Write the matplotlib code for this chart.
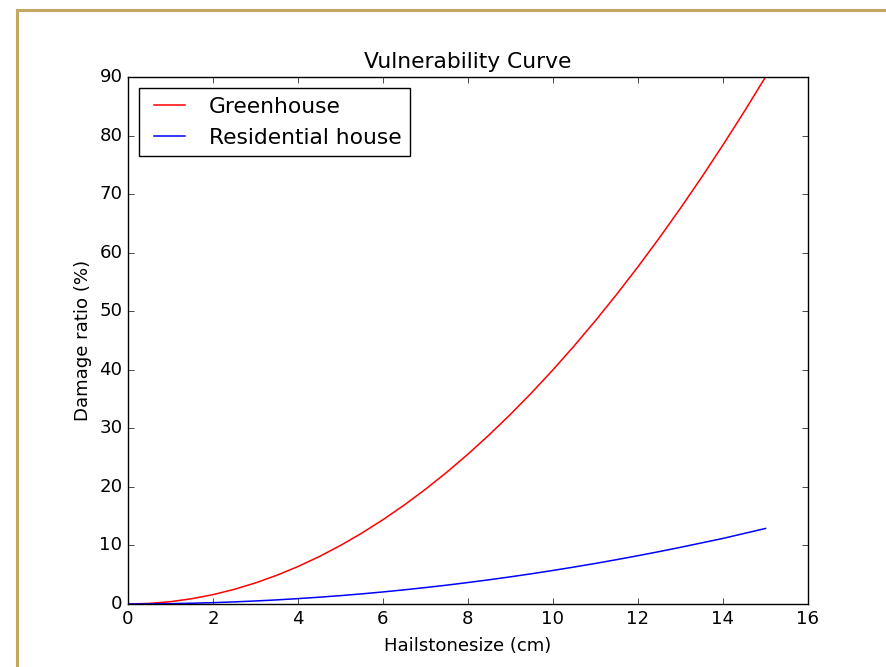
import matplotlib
matplotlib.use("Agg")
import matplotlib.pyplot as plt
from matplotlib.lines import Line2D

plt.style.use('classic')
plt.rcParams['figure.facecolor'] = 'white'
plt.rcParams['savefig.facecolor'] = 'white'
plt.rcParams['font.family'] = ['DejaVu Sans']
plt.rcParams['font.size'] = 13.1

hail_size = [0, 0.5, 1, 1.5, 2, 2.5, 3, 3.5, 4, 4.5, 5, 5.5, 6, 6.5, 7, 7.5,
             8, 8.5, 9, 9.5, 10, 10.5, 11, 11.5, 12, 12.5, 13, 13.5, 14, 14.5, 15]
greenhouse = [0, 0.1, 0.4, 0.9, 1.6, 2.5, 3.6, 4.9, 6.4, 8.1, 10.0, 12.1, 14.4, 16.9, 19.6, 22.5,
              25.6, 28.9, 32.4, 36.1, 40.0, 44.1, 48.4, 52.9, 57.6, 62.5, 67.6, 72.9, 78.4, 84.1, 90.0]
residential = [0, 0.014, 0.06, 0.13, 0.23, 0.36, 0.52, 0.70, 0.92, 1.16, 1.43, 1.73, 2.06, 2.42, 2.81, 3.22,
               3.67, 4.14, 4.64, 5.17, 5.73, 6.32, 6.93, 7.58, 8.25, 8.95, 9.68, 10.44, 11.2, 12.05, 12.9]

fig = plt.figure(figsize=(8.87, 6.67), dpi=100)
ax = fig.add_axes([128/887, 63/667, 680/887, 527/667])
ax.plot(hail_size, greenhouse, color='r', lw=1.1, label='Greenhouse')
ax.plot(hail_size, residential, color='b', lw=1.1, label='Residential house')
ax.set_xlim(0, 16)
ax.set_ylim(0, 90)
ax.set_xticks(range(0, 17, 2))
ax.set_yticks(range(0, 91, 10))
ax.set_title('Vulnerability Curve', fontsize=15.7, pad=6.2)
ax.set_xlabel('Hailstonesize (cm)', labelpad=7)
ax.set_ylabel('Damage ratio (%)')
ax.legend(loc='upper left', fontsize=15.7)

gold = '#C4A862'
fig.add_artist(Line2D([17/887, 1.0], [1 - 10/667, 1 - 10/667], transform=fig.transFigure, color=gold, lw=2.2))
fig.add_artist(Line2D([17/887, 17/887], [0, 1 - 10/667], transform=fig.transFigure, color=gold, lw=2.2))

fig.savefig('out.png', dpi=100)
